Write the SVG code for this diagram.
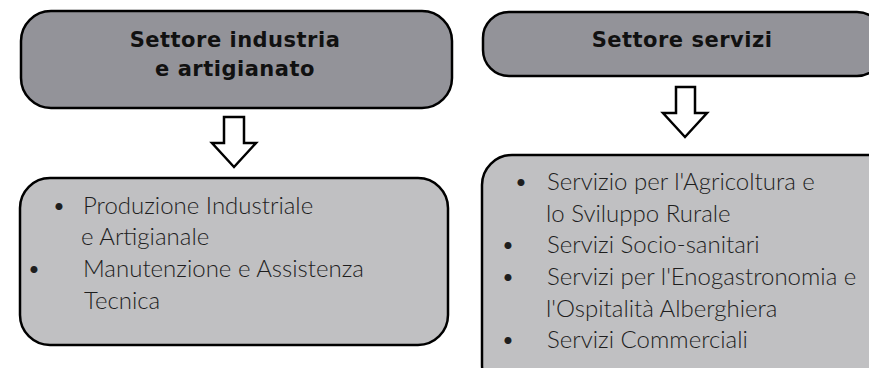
<svg xmlns="http://www.w3.org/2000/svg" width="869" height="368" viewBox="0 0 869 368">
<style>
.hdr{fill:#939399;stroke:#000;stroke-width:2.5}
.lst{fill:#c0c0c2;stroke:#000;stroke-width:2.5}
.t{fill:#1e1e1e}
.b{font-family:"DejaVu Sans","Liberation Sans",sans-serif;font-weight:bold;font-size:21px;letter-spacing:0.5px;text-anchor:middle;fill:#111}
.n{font-family:Lato,"Liberation Sans",sans-serif;font-size:24px;font-weight:300}
.arr{fill:#fff;stroke:#000;stroke-width:2.5;stroke-linejoin:miter}
</style>
<rect width="869" height="368" fill="#fff"/>
<g id="node-industria">
<rect class="hdr" x="21" y="11" width="431" height="97" rx="30" ry="30"/>
<text class="t b" x="235" y="47">Settore industria</text>
<text class="t b" x="235" y="76">e artigianato</text>
</g>
<g id="node-servizi">
<rect class="hdr" x="483" y="12" width="400" height="64" rx="26" ry="26"/>
<text class="t b" x="682" y="47">Settore servizi</text>
</g>
<g id="node-list-industria">
<rect class="lst" x="20" y="178" width="428" height="167" rx="30" ry="30"/>
<text class="t n" x="52" y="214">•</text>
<text class="t n" x="83" y="214">Produzione Industriale</text>
<text class="t n" x="81" y="245">e Artigianale</text>
<text class="t n" x="27" y="277">•</text>
<text class="t n" x="83" y="277">Manutenzione e Assistenza</text>
<text class="t n" x="84" y="309">Tecnica</text>
</g>
<g id="node-list-servizi">
<rect class="lst" x="482" y="155" width="420" height="240" rx="30" ry="30"/>
<text class="t n" x="514" y="190">•</text>
<text class="t n" x="547" y="190">Servizio per l'Agricoltura e</text>
<text class="t n" x="546" y="222">lo Sviluppo Rurale</text>
<text class="t n" x="501" y="253">•</text>
<text class="t n" x="547" y="253">Servizi Socio-sanitari</text>
<text class="t n" x="501" y="285">•</text>
<text class="t n" x="547" y="285">Servizi per l'Enogastronomia e</text>
<text class="t n" x="546" y="317">l'Ospitalità Alberghiera</text>
<text class="t n" x="501" y="348">•</text>
<text class="t n" x="547" y="348">Servizi Commerciali</text>
</g>
<g id="connectors">
<path class="arr" d="M224,117 H244 V143 H256 L234,167 L212,143 H224 Z"/>
<path class="arr" d="M676,87 H695 V113 H707 L685,137 L663,113 H676 Z"/>
</g>
</svg>
